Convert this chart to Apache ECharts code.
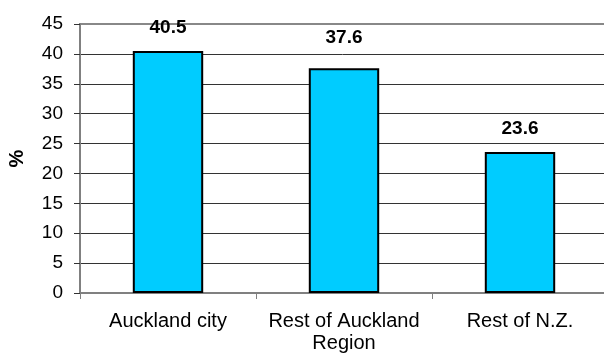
<!DOCTYPE html>
<html>
<head>
<meta charset="utf-8">
<script src="https://cdn.jsdelivr.net/npm/echarts@6/dist/echarts.min.js"></script>
<style>html,body{margin:0;padding:0;background:#fff}#c{width:604px;height:359px}</style>
</head>
<body>
<div id="c"></div>
<script>
const categories = ['Auckland city', 'Rest of Auckland\nRegion', 'Rest of N.Z.'];
const values = [40.5, 37.6, 23.6];
const yTicks = [0, 5, 10, 15, 20, 25, 30, 35, 40, 45];
const yTitle = '%';

const FONT = '"Liberation Sans", Arial, sans-serif';
const labelGap = [14, 21, 14];

const chart = echarts.init(document.getElementById('c'), null, {renderer: 'canvas'});
chart.setOption({
  animation: false,
  grid: {
    left: 80, right: -4, top: 24, bottom: 66,
    containLabel: false, outerBoundsMode: 'none',
    show: true, borderColor: '#888', borderWidth: 2, backgroundColor: 'transparent'
  },
  xAxis: {
    type: 'category',
    data: categories,
    boundaryGap: true,
    axisLine: {lineStyle: {color: '#808080', width: 2}},
    axisTick: {show: true, alignWithLabel: false, length: 6, inside: false, lineStyle: {color: '#808080', width: 1}},
    axisLabel: {color: '#000', fontFamily: FONT, fontSize: 20, lineHeight: 22, margin: 17, interval: 0}
  },
  yAxis: {
    type: 'value',
    min: yTicks[0], max: yTicks[yTicks.length - 1], interval: 5,
    name: yTitle,
    nameLocation: 'middle',
    nameGap: 53,
    nameRotate: 90,
    nameTextStyle: {color: '#000', fontFamily: FONT, fontSize: 20, fontWeight: 'bold'},
    axisLine: {show: true, lineStyle: {color: '#808080', width: 2}},
    axisTick: {show: true, length: 6, lineStyle: {color: '#333', width: 1}},
    axisLabel: {color: '#000', fontFamily: FONT, fontSize: 19, margin: 17},
    splitLine: {show: true, showMaxLine: false, lineStyle: {color: '#333', width: 1}}
  },
  series: [{
    type: 'bar',
    barWidth: '40%',
    data: values.map((v, i) => ({value: v, label: {distance: labelGap[i]}})),
    itemStyle: {color: '#00CCFF', borderColor: '#000', borderWidth: 2},
    label: {show: true, position: 'top', color: '#000', fontFamily: FONT, fontSize: 19, fontWeight: 'bold'}
  }]
});
</script>
</body>
</html>
